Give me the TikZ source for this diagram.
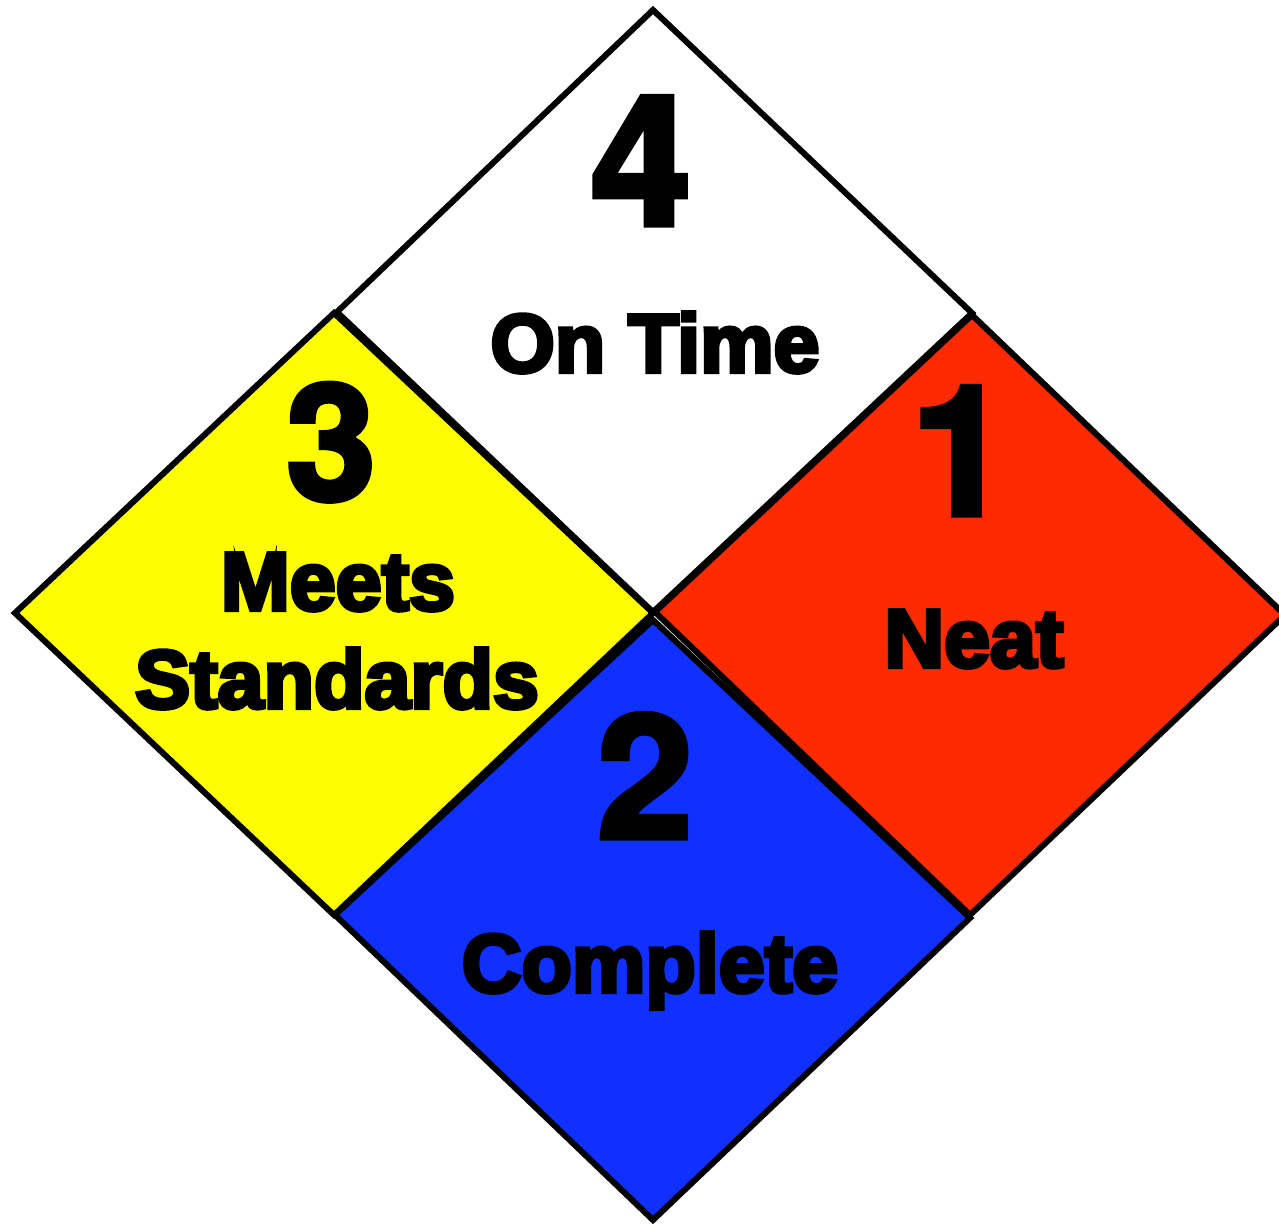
\documentclass[tikz,border=0pt]{standalone}
\usepackage{fontspec}
\newfontfamily\signfont[BoldFeatures={FakeBold=5}]{Liberation Sans}
\newfontfamily\digitfont[BoldFeatures={FakeBold=3}]{TeX Gyre Heros}
\definecolor{hazyellow}{RGB}{255,253,0}
\definecolor{hazred}{RGB}{255,42,0}
\definecolor{hazblue}{RGB}{15,48,255}
\tikzset{
  quad/.style={draw=black, line width=0.12cm, line join=miter},
  rank/.style={inner sep=0pt, anchor=base, font=\digitfont\bfseries\fontsize{#1}{#1}\selectfont},
  word/.style={inner sep=0pt, anchor=base, font=\signfont\bfseries\fontsize{47pt}{50pt}\selectfont},
}

\begin{document}
\begin{tikzpicture}[x=0.02cm, y=-0.02cm]
  \useasboundingbox (0,0) rectangle (1279,1224);
  % the four quarters of the sign
  \filldraw[quad, fill=white] (653,10) -- (972,313) -- (653,612) -- (337,312) -- cycle;
  \filldraw[quad, fill=hazyellow] (334,313) -- (653,613) -- (334,915) -- (15,613) -- cycle;
  \filldraw[quad, fill=hazred] (972,315) -- (1285,615) -- (970,915) -- (655,612) -- cycle;
  \filldraw[quad, fill=hazblue] (653,620) -- (970,918) -- (653,1220) -- (335,915) -- cycle;
  % ratings
  \node[rank=103pt] (four) at (641,225) {4};
  \node[word] (ontime) at (655,372) {On Time};
  \node[rank=92pt] (three) at (331,500) {3};
  \node[word] (meets) at (338,610) {Meets};
  \node[word] (standards) at (337,708) {Standards};
  \node[rank=103pt] (one) at (961,515) {1};
  \node[word] (neat) at (974,667) {Neat};
  \node[rank=98pt] (two) at (645,838) {2};
  \node[word] (complete) at (650,992) {Complete};
\end{tikzpicture}
\end{document}
